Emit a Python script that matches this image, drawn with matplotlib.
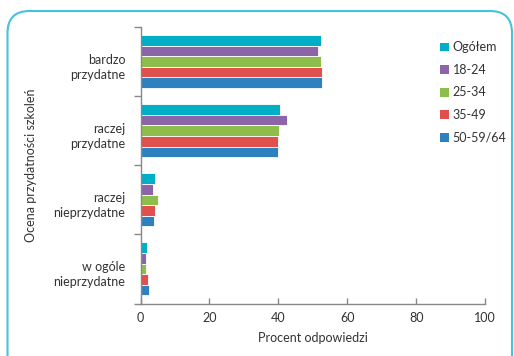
import matplotlib
matplotlib.use("Agg")
import matplotlib.pyplot as plt
import numpy as np
from matplotlib.patches import FancyBboxPatch, Patch
from matplotlib.transforms import IdentityTransform, ScaledTranslation

categories = ["bardzo\nprzydatne", "raczej\nprzydatne", "raczej\nnieprzydatne", "w ogóle\nnieprzydatne"]
series_names = ["Ogółem", "18-24", "25-34", "35-49", "50-59/64"]
ogolem = [52.4, 40.5, 4.3, 2.0]
g18_24 = [51.4, 42.4, 3.7, 1.7]
g25_34 = [52.3, 40.3, 5.0, 1.5]
g35_49 = [52.7, 39.8, 4.3, 2.2]
g50_64 = [52.7, 39.9, 3.9, 2.5]
series = [ogolem, g18_24, g25_34, g35_49, g50_64]
colors = ["#00AEC7", "#8B65A8", "#8DBE4B", "#E0504C", "#2E81BF"]
xticks = [0, 20, 40, 60, 80, 100]

plt.rcParams['font.family'] = ['Lato', 'DejaVu Sans']
txt = "#333333"

fig = plt.figure(figsize=(5.14, 3.56), dpi=100)
ax = fig.add_axes([140.5/514, 1-303.5/356, (485.3-140.5)/514, (303.5-27)/356])

n = len(series)
h = 0.153
y = np.arange(len(categories))
for i, (vals, c, name) in enumerate(zip(series, colors, series_names)):
    offs = (i - (n-1)/2) * h
    ax.barh(y + offs, vals, height=h, color=c, edgecolor="white", linewidth=0.6, label=name)

ax.set_xlim(0, 100)
ax.set_ylim(3.5, -0.5)
ax.set_xticks(xticks)
ax.set_xticklabels([str(t) for t in xticks], fontsize=9, color=txt)
ax.set_yticks(np.arange(-0.5, 4.0, 1.0))
ax.set_yticklabels([])
ax.set_yticks(y, minor=True)
ax.set_yticklabels(categories, minor=True, fontsize=9, color=txt, ha="right", linespacing=1.3)
ax.tick_params(axis="y", which="minor", length=0, pad=11)
ax.tick_params(axis="y", which="major", direction="out", length=5, color="#888888", width=1)
ax.tick_params(axis="x", direction="in", length=4, color="#888888", width=1, pad=6)
shift = ScaledTranslation(0, -3/100, fig.dpi_scale_trans)
for lbl in ax.get_yticklabels(minor=True):
    lbl.set_transform(lbl.get_transform() + shift)
for s in ["top", "right"]:
    ax.spines[s].set_visible(False)
for s in ["left", "bottom"]:
    ax.spines[s].set_color("#888888")
    ax.spines[s].set_linewidth(1)
ax.set_xlabel("Procent odpowiedzi", fontsize=9, color=txt, labelpad=6)
ax.set_ylabel("Ocena przydatności szkoleń", fontsize=9, color=txt)
ax.yaxis.set_label_coords(-0.30, 0.5)

handles = [Patch(facecolor=c, edgecolor="none") for c in colors]
fig.legend(handles, series_names, loc="upper left", bbox_to_anchor=(429/514, 1-30/356),
           frameon=False, fontsize=9, handlelength=0.7, handleheight=0.7,
           handletextpad=0.3, labelspacing=0.85, labelcolor=txt)

frame = FancyBboxPatch((7.5, -20), 504.5, 365, boxstyle="round,pad=0,rounding_size=22",
                       transform=IdentityTransform(), fill=False, edgecolor="#45C3DA",
                       linewidth=1.5)
fig.patches.append(frame)

fig.savefig("out.png", dpi=100)
